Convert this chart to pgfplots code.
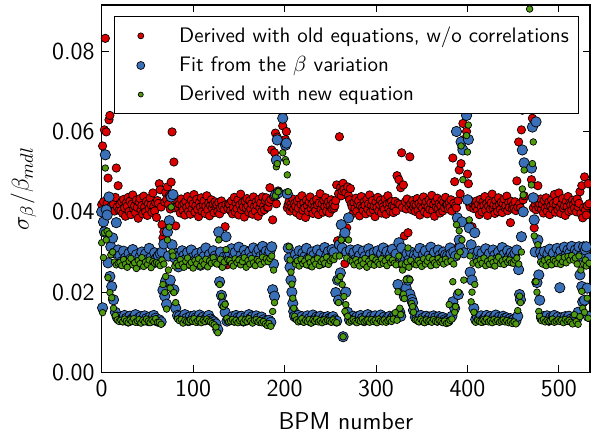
\documentclass[border=0pt]{standalone}
\usepackage{pgfplots}
\pgfplotsset{compat=1.18}
\usepackage{pgfplotstable}
\definecolor{cred}{RGB}{220,0,0}
\definecolor{cblue}{RGB}{58,112,184}
\definecolor{cgreen}{RGB}{78,154,16}

% columns: BPM, old eq. w/o correlations, fit from beta variation, new equation
\pgfplotstableread{
x r b g
0 0.0418 0.0400 0.0323
1 0.0564 0.0161 0.0149
2 0.0425 0.0375 0.0286
3 0.0604 0.0350 0.0348
4 0.0832 0.0542 0.0509
5 0.0599 0.0405 0.0330
6 0.0421 0.0392 0.0352
7 0.0484 0.0273 0.0236
8 0.0629 0.0437 0.0345
9 0.0640 0.0239 0.0199
10 0.0413 0.0313 0.0293
11 0.0430 0.0214 0.0186
12 0.0407 0.0335 0.0300
13 0.0419 0.0181 0.0160
14 0.0402 0.0298 0.0275
15 0.0436 0.0150 0.0142
16 0.0509 0.0373 0.0268
17 0.0412 0.0138 0.0131
18 0.0465 0.0305 0.0272
19 0.0404 0.0133 0.0127
20 0.0418 0.0291 0.0274
21 0.0403 0.0138 0.0130
22 0.0425 0.0276 0.0266
23 0.0396 0.0131 0.0126
24 0.0431 0.0302 0.0281
25 0.0410 0.0142 0.0133
26 0.0389 0.0285 0.0270
27 0.0422 0.0135 0.0128
28 0.0414 0.0270 0.0262
29 0.0436 0.0128 0.0124
30 0.0401 0.0297 0.0277
31 0.0427 0.0140 0.0131
32 0.0393 0.0283 0.0284
33 0.0419 0.0133 0.0127
34 0.0442 0.0306 0.0268
35 0.0407 0.0137 0.0134
36 0.0415 0.0279 0.0273
37 0.0398 0.0144 0.0125
38 0.0429 0.0293 0.0259
39 0.0411 0.0130 0.0129
40 0.0384 0.0268 0.0279
41 0.0424 0.0136 0.0132
42 0.0433 0.0288 0.0271
43 0.0405 0.0139 0.0123
44 0.0416 0.0300 0.0286
45 0.0395 0.0132 0.0130
46 0.0439 0.0274 0.0264
47 0.0412 0.0141 0.0126
48 0.0400 0.0295 0.0275
49 0.0426 0.0134 0.0133
50 0.0391 0.0281 0.0269
51 0.0420 0.0129 0.0128
52 0.0408 0.0309 0.0280
53 0.0434 0.0138 0.0124
54 0.0417 0.0286 0.0261
55 0.0399 0.0131 0.0131
56 0.0447 0.0272 0.0276
57 0.0413 0.0142 0.0127
58 0.0402 0.0298 0.0272
59 0.0423 0.0135 0.0134
60 0.0386 0.0284 0.0274
61 0.0428 0.0128 0.0125
62 0.0421 0.0290 0.0271
63 0.0470 0.0131 0.0125
64 0.0455 0.0296 0.0266
65 0.0412 0.0126 0.0120
66 0.0368 0.0300 0.0280
67 0.0335 0.0205 0.0219
68 0.0350 0.0320 0.0270
69 0.0424 0.0190 0.0199
70 0.0448 0.0228 0.0239
71 0.0431 0.0170 0.0158
72 0.0462 0.0350 0.0330
73 0.0419 0.0290 0.0255
74 0.0441 0.0378 0.0362
75 0.0407 0.0230 0.0210
76 0.0474 0.0437 0.0412
77 0.0599 0.0318 0.0300
78 0.0443 0.0443 0.0290
79 0.0524 0.0206 0.0199
80 0.0410 0.0285 0.0265
81 0.0365 0.0160 0.0174
82 0.0426 0.0296 0.0272
83 0.0415 0.0142 0.0133
84 0.0409 0.0263 0.0266
85 0.0419 0.0140 0.0129
86 0.0397 0.0292 0.0281
87 0.0432 0.0133 0.0132
88 0.0414 0.0303 0.0270
89 0.0404 0.0137 0.0123
90 0.0421 0.0291 0.0262
91 0.0392 0.0144 0.0130
92 0.0426 0.0282 0.0277
93 0.0411 0.0135 0.0127
94 0.0438 0.0299 0.0285
95 0.0402 0.0129 0.0126
96 0.0417 0.0271 0.0268
97 0.0394 0.0139 0.0131
98 0.0429 0.0305 0.0274
99 0.0408 0.0132 0.0128
100 0.0420 0.0287 0.0260
101 0.0443 0.0141 0.0134
102 0.0399 0.0278 0.0279
103 0.0415 0.0136 0.0125
104 0.0431 0.0296 0.0271
105 0.0406 0.0130 0.0129
106 0.0388 0.0284 0.0283
107 0.0423 0.0143 0.0132
108 0.0412 0.0267 0.0265
109 0.0435 0.0134 0.0124
110 0.0401 0.0301 0.0276
111 0.0418 0.0138 0.0130
112 0.0427 0.0289 0.0269
113 0.0396 0.0131 0.0127
114 0.0414 0.0310 0.0282
115 0.0440 0.0137 0.0133
116 0.0405 0.0275 0.0263
117 0.0422 0.0142 0.0128
118 0.0390 0.0294 0.0278
119 0.0416 0.0133 0.0126
120 0.0430 0.0280 0.0272
121 0.0409 0.0129 0.0122
122 0.0419 0.0303 0.0286
123 0.0398 0.0126 0.0119
124 0.0425 0.0290 0.0274
125 0.0413 0.0121 0.0113
126 0.0418 0.0284 0.0270
127 0.0401 0.0107 0.0099
128 0.0423 0.0350 0.0330
129 0.0395 0.0226 0.0219
130 0.0410 0.0300 0.0282
131 0.0427 0.0192 0.0190
132 0.0414 0.0270 0.0262
133 0.0298 0.0170 0.0164
134 0.0406 0.0288 0.0275
135 0.0363 0.0150 0.0170
136 0.0418 0.0338 0.0306
137 0.0268 0.0128 0.0135
138 0.0409 0.0295 0.0281
139 0.0421 0.0131 0.0126
140 0.0418 0.0296 0.0279
141 0.0403 0.0134 0.0128
142 0.0427 0.0308 0.0271
143 0.0395 0.0139 0.0132
144 0.0411 0.0285 0.0265
145 0.0436 0.0130 0.0126
146 0.0400 0.0299 0.0283
147 0.0421 0.0142 0.0130
148 0.0408 0.0277 0.0274
149 0.0430 0.0136 0.0124
150 0.0392 0.0312 0.0280
151 0.0417 0.0133 0.0129
152 0.0444 0.0290 0.0268
153 0.0405 0.0140 0.0133
154 0.0423 0.0281 0.0276
155 0.0412 0.0128 0.0125
156 0.0387 0.0304 0.0286
157 0.0426 0.0137 0.0131
158 0.0409 0.0293 0.0262
159 0.0433 0.0131 0.0127
160 0.0415 0.0272 0.0279
161 0.0399 0.0144 0.0134
162 0.0428 0.0301 0.0270
163 0.0407 0.0135 0.0128
164 0.0420 0.0287 0.0284
165 0.0394 0.0139 0.0123
166 0.0437 0.0310 0.0273
167 0.0413 0.0132 0.0130
168 0.0402 0.0279 0.0266
169 0.0425 0.0141 0.0132
170 0.0416 0.0298 0.0281
171 0.0389 0.0134 0.0126
172 0.0431 0.0306 0.0277
173 0.0410 0.0129 0.0129
174 0.0422 0.0289 0.0269
175 0.0401 0.0138 0.0124
176 0.0437 0.0314 0.0287
177 0.0414 0.0131 0.0127
178 0.0405 0.0295 0.0275
179 0.0428 0.0127 0.0121
180 0.0435 0.0302 0.0283
181 0.0411 0.0124 0.0117
182 0.0412 0.0290 0.0276
183 0.0424 0.0130 0.0122
184 0.0460 0.0302 0.0284
185 0.0431 0.0125 0.0115
186 0.0554 0.0313 0.0290
187 0.0380 0.0206 0.0152
188 0.0437 0.0270 0.0255
189 0.0547 0.0190 0.0174
190 0.0596 0.0442 0.0440
191 0.0420 0.0529 0.0512
192 0.0586 0.0579 0.0520
193 0.0452 0.0447 0.0450
198 0.0614 0.0633 0.0547
201 0.0580 0.0566 0.0530
202 0.0600 0.0571 0.0524
203 0.0410 0.0445 0.0492
204 0.0418 0.0310 0.0450
205 0.0426 0.0285 0.0313
206 0.0402 0.0262 0.0280
207 0.0419 0.0230 0.0250
208 0.0411 0.0200 0.0220
209 0.0432 0.0172 0.0185
210 0.0407 0.0152 0.0160
211 0.0421 0.0140 0.0140
212 0.0414 0.0294 0.0270
213 0.0398 0.0137 0.0131
214 0.0427 0.0281 0.0278
215 0.0409 0.0142 0.0126
216 0.0433 0.0303 0.0265
217 0.0391 0.0133 0.0129
218 0.0418 0.0276 0.0282
219 0.0440 0.0139 0.0134
220 0.0404 0.0297 0.0271
221 0.0422 0.0130 0.0125
222 0.0410 0.0288 0.0277
223 0.0386 0.0136 0.0130
224 0.0429 0.0309 0.0268
225 0.0415 0.0141 0.0127
226 0.0401 0.0283 0.0285
227 0.0424 0.0134 0.0132
228 0.0437 0.0270 0.0274
229 0.0408 0.0128 0.0123
230 0.0419 0.0300 0.0263
231 0.0396 0.0143 0.0131
232 0.0426 0.0292 0.0279
233 0.0412 0.0132 0.0128
234 0.0403 0.0279 0.0270
235 0.0431 0.0138 0.0133
236 0.0417 0.0305 0.0284
237 0.0393 0.0135 0.0126
238 0.0422 0.0287 0.0266
239 0.0445 0.0140 0.0129
240 0.0406 0.0296 0.0276
241 0.0420 0.0131 0.0124
242 0.0399 0.0274 0.0281
243 0.0428 0.0137 0.0131
244 0.0413 0.0311 0.0272
245 0.0435 0.0133 0.0127
246 0.0402 0.0290 0.0287
247 0.0418 0.0139 0.0130
248 0.0425 0.0301 0.0269
249 0.0397 0.0134 0.0128
250 0.0416 0.0286 0.0278
251 0.0430 0.0136 0.0125
252 0.0407 0.0306 0.0283
253 0.0421 0.0139 0.0131
254 0.0409 0.0300 0.0281
255 0.0415 0.0131 0.0126
256 0.0428 0.0199 0.0290
257 0.0467 0.0128 0.0124
258 0.0328 0.0230 0.0230
259 0.0445 0.0180 0.0174
260 0.0587 0.0318 0.0290
261 0.0460 0.0248 0.0239
262 0.0440 0.0368 0.0330
263 0.0452 0.0310 0.0219
264 0.0471 0.0089 0.0089
265 0.0456 0.0338 0.0189
266 0.0271 0.0348 0.0152
267 0.0448 0.0200 0.0169
268 0.0360 0.0300 0.0285
269 0.0462 0.0150 0.0140
270 0.0440 0.0385 0.0330
271 0.0430 0.0131 0.0125
272 0.0458 0.0305 0.0278
273 0.0419 0.0137 0.0129
274 0.0412 0.0287 0.0276
275 0.0396 0.0140 0.0132
276 0.0423 0.0299 0.0268
277 0.0408 0.0133 0.0127
278 0.0434 0.0282 0.0281
279 0.0401 0.0138 0.0124
280 0.0419 0.0306 0.0273
281 0.0427 0.0131 0.0130
282 0.0390 0.0291 0.0265
283 0.0415 0.0142 0.0128
284 0.0438 0.0276 0.0279
285 0.0410 0.0135 0.0133
286 0.0403 0.0302 0.0271
287 0.0425 0.0129 0.0126
288 0.0416 0.0289 0.0284
289 0.0395 0.0137 0.0129
290 0.0431 0.0270 0.0262
291 0.0407 0.0144 0.0131
292 0.0420 0.0308 0.0277
293 0.0442 0.0132 0.0125
294 0.0399 0.0294 0.0270
295 0.0417 0.0139 0.0132
296 0.0428 0.0281 0.0286
297 0.0405 0.0134 0.0127
298 0.0414 0.0299 0.0267
299 0.0388 0.0141 0.0130
300 0.0424 0.0285 0.0280
301 0.0411 0.0130 0.0124
302 0.0436 0.0303 0.0274
303 0.0402 0.0136 0.0133
304 0.0418 0.0277 0.0269
305 0.0429 0.0143 0.0128
306 0.0397 0.0296 0.0283
307 0.0421 0.0133 0.0126
308 0.0413 0.0310 0.0272
309 0.0406 0.0138 0.0131
310 0.0432 0.0288 0.0278
311 0.0394 0.0131 0.0125
312 0.0419 0.0301 0.0266
313 0.0440 0.0137 0.0129
314 0.0408 0.0279 0.0285
315 0.0423 0.0140 0.0132
316 0.0401 0.0295 0.0274
317 0.0426 0.0134 0.0127
318 0.0415 0.0307 0.0280
319 0.0398 0.0139 0.0133
320 0.0413 0.0288 0.0272
321 0.0426 0.0140 0.0149
322 0.0402 0.0295 0.0268
323 0.0490 0.0137 0.0130
324 0.0421 0.0219 0.0201
325 0.0480 0.0323 0.0290
326 0.0418 0.0150 0.0160
327 0.0460 0.0140 0.0144
328 0.0547 0.0310 0.0270
329 0.0411 0.0270 0.0255
330 0.0467 0.0200 0.0195
331 0.0340 0.0189 0.0184
332 0.0425 0.0285 0.0268
333 0.0407 0.0210 0.0231
334 0.0432 0.0296 0.0275
335 0.0348 0.0230 0.0310
336 0.0415 0.0280 0.0262
337 0.0537 0.0195 0.0231
338 0.0420 0.0300 0.0279
339 0.0405 0.0182 0.0172
340 0.0428 0.0174 0.0164
341 0.0412 0.0155 0.0150
342 0.0419 0.0292 0.0270
343 0.0401 0.0138 0.0131
344 0.0417 0.0285 0.0268
345 0.0433 0.0137 0.0130
346 0.0404 0.0298 0.0279
347 0.0421 0.0131 0.0126
348 0.0392 0.0309 0.0272
349 0.0414 0.0142 0.0133
350 0.0428 0.0280 0.0264
351 0.0409 0.0135 0.0128
352 0.0437 0.0294 0.0283
353 0.0400 0.0129 0.0124
354 0.0418 0.0303 0.0270
355 0.0425 0.0140 0.0131
356 0.0395 0.0276 0.0277
357 0.0412 0.0133 0.0127
358 0.0430 0.0291 0.0286
359 0.0406 0.0138 0.0129
360 0.0422 0.0312 0.0266
361 0.0441 0.0132 0.0125
362 0.0403 0.0287 0.0281
363 0.0419 0.0141 0.0132
364 0.0389 0.0299 0.0273
365 0.0426 0.0136 0.0128
366 0.0411 0.0278 0.0268
367 0.0434 0.0130 0.0126
368 0.0408 0.0305 0.0284
369 0.0420 0.0139 0.0130
370 0.0397 0.0292 0.0275
371 0.0415 0.0134 0.0127
372 0.0429 0.0284 0.0279
373 0.0402 0.0137 0.0124
374 0.0424 0.0300 0.0270
375 0.0410 0.0131 0.0128
376 0.0436 0.0293 0.0282
377 0.0418 0.0128 0.0122
378 0.0418 0.0290 0.0275
379 0.0407 0.0129 0.0124
380 0.0424 0.0285 0.0169
381 0.0411 0.0310 0.0130
382 0.0430 0.0295 0.0278
383 0.0402 0.0140 0.0133
384 0.0534 0.0176 0.0226
385 0.0421 0.0300 0.0270
386 0.0475 0.0160 0.0150
387 0.0415 0.0290 0.0164
388 0.0410 0.0600 0.0368
389 0.0310 0.0385 0.0290
390 0.0428 0.0194 0.0200
391 0.0504 0.0330 0.0353
392 0.0445 0.0310 0.0300
393 0.0520 0.0574 0.0564
394 0.0560 0.0375 0.0330
395 0.0620 0.0554 0.0480
396 0.0580 0.0298 0.0230
399 0.0600 0.0640 0.0590
400 0.0494 0.0430 0.0549
401 0.0470 0.0580 0.0616
402 0.0420 0.0360 0.0380
403 0.0412 0.0250 0.0290
404 0.0426 0.0318 0.0176
405 0.0363 0.0230 0.0200
406 0.0419 0.0296 0.0272
407 0.0408 0.0160 0.0150
408 0.0424 0.0348 0.0219
409 0.0413 0.0132 0.0125
410 0.0427 0.0290 0.0276
411 0.0405 0.0138 0.0130
412 0.0419 0.0302 0.0268
413 0.0393 0.0133 0.0127
414 0.0431 0.0283 0.0281
415 0.0412 0.0141 0.0125
416 0.0400 0.0297 0.0272
417 0.0425 0.0130 0.0131
418 0.0416 0.0279 0.0285
419 0.0438 0.0136 0.0128
420 0.0404 0.0308 0.0266
421 0.0421 0.0142 0.0133
422 0.0391 0.0288 0.0277
423 0.0414 0.0134 0.0126
424 0.0429 0.0296 0.0270
425 0.0407 0.0139 0.0129
426 0.0422 0.0273 0.0283
427 0.0444 0.0131 0.0124
428 0.0409 0.0305 0.0274
429 0.0417 0.0137 0.0132
430 0.0396 0.0292 0.0265
431 0.0428 0.0143 0.0127
432 0.0413 0.0281 0.0279
433 0.0401 0.0133 0.0130
434 0.0435 0.0300 0.0287
435 0.0418 0.0138 0.0125
436 0.0406 0.0286 0.0271
437 0.0424 0.0132 0.0128
438 0.0398 0.0311 0.0278
439 0.0420 0.0140 0.0131
440 0.0432 0.0294 0.0269
441 0.0410 0.0135 0.0126
442 0.0415 0.0278 0.0282
443 0.0439 0.0136 0.0129
444 0.0403 0.0303 0.0275
445 0.0423 0.0131 0.0124
446 0.0411 0.0289 0.0280
447 0.0373 0.0134 0.0127
448 0.0426 0.0298 0.0273
449 0.0408 0.0130 0.0122
450 0.0417 0.0290 0.0272
451 0.0409 0.0132 0.0126
452 0.0425 0.0297 0.0280
453 0.0403 0.0128 0.0121
454 0.0477 0.0305 0.0285
455 0.0412 0.0140 0.0154
456 0.0574 0.0256 0.0270
457 0.0420 0.0194 0.0190
458 0.0410 0.0181 0.0174
459 0.0604 0.0338 0.0300
460 0.0653 0.0554 0.0457
461 0.0430 0.0400 0.0442
462 0.0440 0.0522 0.0504
468 nan nan 0.0905
470 0.0480 0.0509 0.0467
471 0.0633 0.0611 0.0520
472 0.0410 0.0435 0.0574
473 0.0360 0.0380 0.0340
474 0.0418 0.0300 0.0226
475 0.0405 0.0624 0.0226
476 0.0427 0.0224 0.0200
477 0.0465 0.0330 0.0318
478 0.0411 0.0243 0.0152
479 0.0420 0.0180 0.0140
480 0.0432 0.0300 0.0275
481 0.0406 0.0136 0.0129
482 0.0419 0.0288 0.0270
483 0.0397 0.0139 0.0132
484 0.0428 0.0301 0.0279
485 0.0410 0.0133 0.0126
486 0.0435 0.0280 0.0266
487 0.0402 0.0141 0.0130
488 0.0416 0.0295 0.0283
489 0.0424 0.0130 0.0127
490 0.0393 0.0307 0.0274
491 0.0414 0.0137 0.0129
492 0.0430 0.0284 0.0268
493 0.0407 0.0135 0.0133
494 0.0421 0.0297 0.0281
495 0.0443 0.0142 0.0125
496 0.0399 0.0276 0.0277
497 0.0418 0.0132 0.0128
498 0.0427 0.0309 0.0271
499 0.0405 0.0138 0.0131
500 0.0447 0.0290 0.0285
501 0.0412 0.0211 0.0127
502 0.0396 0.0302 0.0269
503 0.0420 0.0136 0.0130
504 0.0433 0.0286 0.0276
505 0.0409 0.0131 0.0124
506 0.0415 0.0312 0.0287
507 0.0391 0.0139 0.0132
508 0.0426 0.0293 0.0273
509 0.0413 0.0134 0.0127
510 0.0438 0.0305 0.0289
511 0.0401 0.0140 0.0130
512 0.0422 0.0298 0.0280
513 0.0417 0.0133 0.0125
514 0.0404 0.0314 0.0291
515 0.0429 0.0130 0.0121
516 0.0418 0.0290 0.0280
517 0.0409 0.0135 0.0144
518 0.0426 0.0305 0.0285
519 0.0400 0.0130 0.0127
520 0.0432 0.0298 0.0270
521 0.0412 0.0150 0.0120
522 0.0421 0.0313 0.0290
523 0.0450 0.0243 0.0139
524 0.0396 0.0290 0.0255
525 0.0465 0.0214 0.0202
526 0.0385 0.0176 0.0160
527 0.0410 0.0313 0.0270
528 0.0487 0.0180 0.0150
529 0.0405 0.0305 0.0280
530 0.0392 0.0313 0.0265
531 0.0415 0.0210 0.0185
532 0.0470 0.0140 0.0135
533 0.0420 0.0285 0.0272
}\bpmtable

\begin{document}
\begin{tikzpicture}
\begin{axis}[
    scale only axis, width=244.5pt, height=184pt,
    xmin=0, xmax=534, ymin=0, ymax=0.0915,
    xtick={0,100,200,300,400,500},
    ytick={0,0.02,0.04,0.06,0.08},
    scaled y ticks=false,
    yticklabel style={/pgf/number format/fixed, /pgf/number format/fixed zerofill,
        /pgf/number format/precision=2},
    /pgf/number format/assume math mode=true,
    tick label style={font=\sffamily\fontsize{12.2}{14}\selectfont},
    label style={font=\sffamily\fontsize{12.2}{14}\selectfont},
    xlabel={BPM number}, ylabel={$\sigma_\beta/\beta_{mdl}$},
    xlabel style={yshift=-1.2pt},
    ylabel style={yshift=1pt},
    tick align=inside, major tick length=3.5pt,
    tick style={black, line width=0.5pt},
    axis line style={line width=0.6pt},
    legend style={at={(0.978,0.970)}, anchor=north east, draw=black,
        line width=0.5pt, fill=white, font=\sffamily\fontsize{10.5}{12}\selectfont,
        row sep=1.6pt, inner xsep=3pt, inner ysep=3pt},
    legend cell align=left,
    legend image code/.code={\path (0pt,0pt) (27pt,0pt); \draw[#1] plot coordinates {(10pt,0pt)};},
]
\addlegendimage{only marks, mark=*, mark size=1.5pt, mark options={fill=cred, draw=black, line width=0.35pt}}
\addlegendentry{Derived with old equations, w/o correlations}
\addlegendimage{only marks, mark=*, mark size=2pt, mark options={fill=cblue, draw=black, line width=0.35pt}}
\addlegendentry{Fit from the $\beta$ variation}
\addlegendimage{only marks, mark=*, mark size=1.25pt, mark options={fill=cgreen, draw=black, line width=0.35pt}}
\addlegendentry{Derived with new equation}
\addplot[forget plot, only marks, mark=*, mark size=2.1pt, mark options={fill=cred, draw=black, line width=0.35pt}]
    table[x=x, y=r] {\bpmtable};
\addplot[forget plot, only marks, mark=*, mark size=2.6pt, mark options={fill=cblue, draw=black, line width=0.35pt}]
    table[x=x, y=b] {\bpmtable};
\addplot[forget plot, only marks, mark=*, mark size=1.65pt, mark options={fill=cgreen, draw=black, line width=0.35pt}]
    table[x=x, y=g] {\bpmtable};
\end{axis}
\pgfresetboundingbox
\path ([xshift=-50.9pt,yshift=-30pt]current axis.south west) rectangle ([xshift=0.5pt,yshift=2.5pt]current axis.north east);
\end{tikzpicture}
\end{document}
